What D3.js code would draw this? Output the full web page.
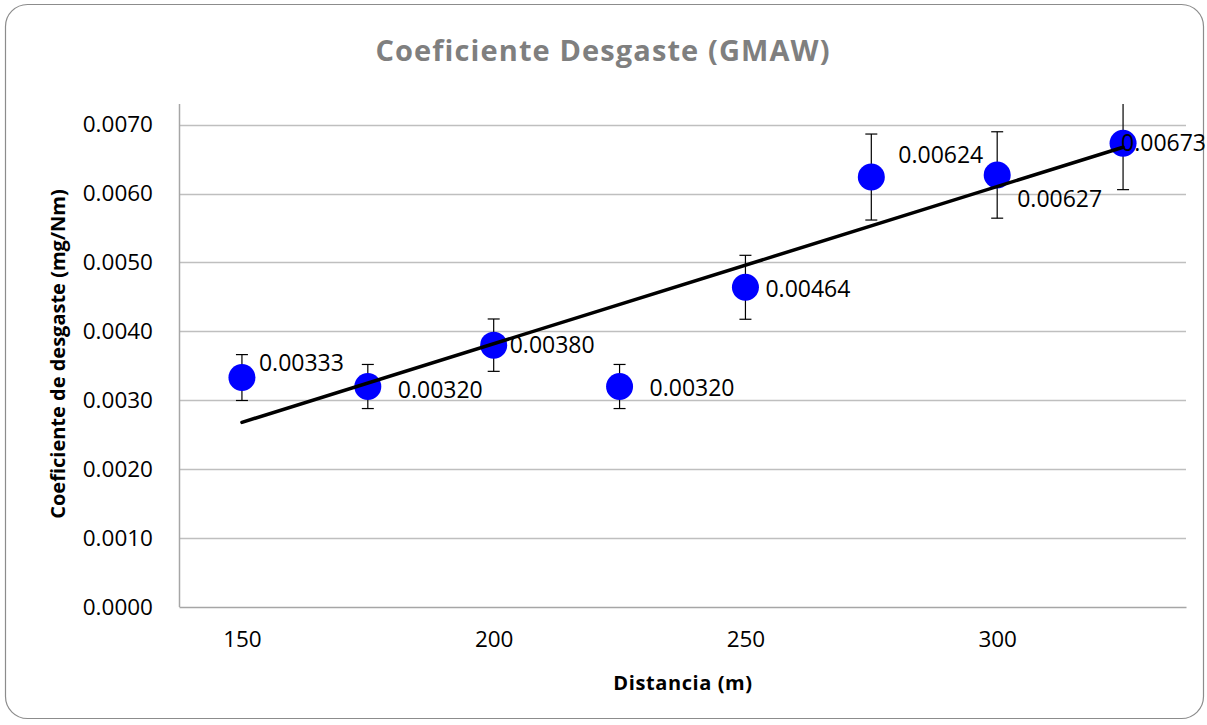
<!DOCTYPE html>
<html>
<head>
<meta charset="utf-8">
<script src="https://cdn.jsdelivr.net/npm/d3@7"></script>
<style>
    body { margin: 0; background: #fff; }
    text { font-family: "Open Sans", sans-serif; }
</style>
</head>
<body>
<svg id="chart" width="1207" height="725"></svg>
<script>
// data
var distancias = [150, 175, 200, 225, 250, 275, 300, 325];
var coeficientes = [0.00333, 0.00320, 0.00380, 0.00320, 0.00464, 0.00624, 0.00627, 0.00673];
var etiquetas = ['0.00333', '0.00320', '0.00380', '0.00320', '0.00464', '0.00624', '0.00627', '0.00673'];
var xTicks = [150, 200, 250, 300];
var yTicks = [0, 0.001, 0.002, 0.003, 0.004, 0.005, 0.006, 0.007];
var errorPct = 0.10; // error bars: 10 %

var svg = d3.select("#chart"),
    width = +svg.attr("width"),
    height = +svg.attr("height");

var margin = {left: 179, right: 21, top: 104, bottom: 118};

var x = d3.scaleLinear().domain([137.5, 337.5]).range([margin.left, width - margin.right]);
var y = d3.scaleLinear().domain([0, 0.0073]).range([height - margin.bottom, margin.top]);

// outer frame
svg.append("rect")
    .attr("x", 5.5).attr("y", 4.5)
    .attr("width", width - 9).attr("height", height - 11)
    .attr("rx", 22).attr("ry", 22)
    .attr("fill", "#fff")
    .attr("stroke", "#8c8c8c")
    .attr("stroke-width", 1.2);

svg.append("defs").append("clipPath").attr("id", "plot")
    .append("rect")
    .attr("x", margin.left).attr("y", margin.top)
    .attr("width", width - margin.right - margin.left)
    .attr("height", height - margin.bottom - margin.top);

// gridlines
svg.append("g")
    .selectAll("line")
    .data(yTicks.slice(1))
    .enter().append("line")
    .attr("x1", x.range()[0]).attr("x2", x.range()[1])
    .attr("y1", function(d) { return Math.round(y(d)) + 0.5; })
    .attr("y2", function(d) { return Math.round(y(d)) + 0.5; })
    .attr("stroke", "#bfbfbf")
    .attr("stroke-width", 1.3);

// axes
var yAxis = svg.append("g")
    .attr("transform", "translate(" + margin.left + ",0)")
    .call(d3.axisLeft(y).tickValues(yTicks).tickSize(0).tickPadding(26)
        .tickFormat(d3.format(".4f")));
var xAxis = svg.append("g")
    .attr("transform", "translate(0," + (height - margin.bottom) + ")")
    .call(d3.axisBottom(x).tickValues(xTicks).tickSize(0).tickPadding(24));
[yAxis, xAxis].forEach(function(a) {
    a.select(".domain").attr("stroke", "#a6a6a6").attr("stroke-width", 1.5);
    a.selectAll("text")
        .attr("font-size", 22.5)
        .attr("fill", "#000")
        .style("font-family", "'Open Sans', sans-serif");
});
yAxis.select(".domain").attr("d", "M0.5," + margin.top + "V" + (height - margin.bottom));

// trend line (linear least squares over the points)
var mx = d3.mean(distancias), my = d3.mean(coeficientes);
var sxy = d3.sum(distancias, function(d, i) { return (d - mx) * (coeficientes[i] - my); });
var sxx = d3.sum(distancias, function(d) { return (d - mx) * (d - mx); });
var pendiente = sxy / sxx, corte = my - pendiente * mx;
var x0 = d3.min(distancias), x1 = d3.max(distancias);

// error bars
var eb = svg.append("g").attr("clip-path", "url(#plot)")
    .selectAll("g")
    .data(distancias)
    .enter().append("g");
eb.append("line")
    .attr("x1", function(d) { return x(d); })
    .attr("x2", function(d) { return x(d); })
    .attr("y1", function(d, i) { return y(coeficientes[i] * (1 + errorPct)); })
    .attr("y2", function(d, i) { return y(coeficientes[i] * (1 - errorPct)); })
    .attr("stroke", "#000").attr("stroke-width", 1.2);
[1 + errorPct, 1 - errorPct].forEach(function(f) {
    eb.append("line")
        .attr("x1", function(d) { return x(d) - 6; })
        .attr("x2", function(d) { return x(d) + 6; })
        .attr("y1", function(d, i) { return y(coeficientes[i] * f); })
        .attr("y2", function(d, i) { return y(coeficientes[i] * f); })
        .attr("stroke", "#000").attr("stroke-width", 1.2);
});

// markers
svg.append("g")
    .selectAll("circle")
    .data(distancias)
    .enter().append("circle")
    .attr("cx", function(d) { return x(d); })
    .attr("cy", function(d, i) { return y(coeficientes[i]); })
    .attr("r", 13.5)
    .attr("fill", "#0000ff");

svg.append("line")
    .attr("x1", x(x0)).attr("y1", y(corte + pendiente * x0))
    .attr("x2", x(x1)).attr("y2", y(corte + pendiente * x1))
    .attr("stroke", "#000")
    .attr("stroke-width", 3.5)
    .attr("stroke-linecap", "round");

// data labels, offsets in px from the marker centre
var offsets = [[17, -15], [30, 3], [16, 0], [30, 1], [20, 2], [27, -22], [20, 24], [-2, 0]];
svg.append("g")
    .selectAll("text")
    .data(distancias)
    .enter().append("text")
    .attr("x", function(d, i) { return x(d) + offsets[i][0]; })
    .attr("y", function(d, i) { return y(coeficientes[i]) + offsets[i][1]; })
    .attr("dy", "0.35em")
    .attr("font-size", 23)
    .attr("fill", "#000")
    .text(function(d, i) { return etiquetas[i]; });

// titles
svg.append("text")
    .attr("x", 603).attr("y", 51)
    .attr("dy", "0.35em")
    .attr("text-anchor", "middle")
    .attr("font-size", 29)
    .attr("letter-spacing", 1.1)
    .attr("font-weight", "bold")
    .attr("fill", "#7f7f7f")
    .text("Coeficiente Desgaste (GMAW)");

svg.append("text")
    .attr("x", 683).attr("y", 683)
    .attr("dy", "0.35em")
    .attr("text-anchor", "middle")
    .attr("font-size", 20)
    .attr("letter-spacing", 0.6)
    .attr("font-weight", "bold")
    .attr("fill", "#000")
    .text("Distancia (m)");

svg.append("text")
    .attr("transform", "translate(58,354) rotate(-90)")
    .attr("dy", "0.35em")
    .attr("text-anchor", "middle")
    .attr("font-size", 20)
    .attr("font-weight", "bold")
    .attr("fill", "#000")
    .text("Coeficiente de desgaste (mg/Nm)");
</script>
</body>
</html>
